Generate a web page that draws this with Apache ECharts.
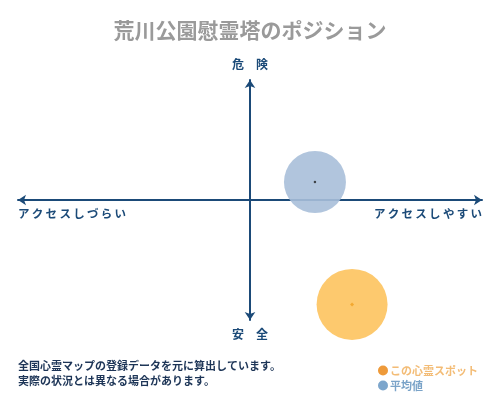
<!DOCTYPE html>
<html><head><meta charset="utf-8">
<script src="https://cdn.jsdelivr.net/npm/echarts@6/dist/echarts.min.js"></script>
<style>html,body{margin:0;padding:0;background:#fff}#c{width:500px;height:400px}</style>
</head><body><div id="c"></div>
<script>
const titleText = '荒川公園慰霊塔のポジション';
const axisTop = '危\u3000険';
const axisBottom = '安\u3000全';
const axisLeft = 'アクセスしづらい';
const axisRight = 'アクセスしやすい';
const seriesNames = ['この心霊スポット', '平均値'];
// [x, y, size]
const spotPoint = [4.4, -8.7, 71];
const avgPoint = [2.8, 1.5, 62];
const noteLines = ['全国心霊マップの登録データを元に算出しています。', '実際の状況とは異なる場合があります。'];

const F = '"Noto Sans CJK JP", sans-serif';
const navy = '#1b4a78';
const sp = s => s.split('').join('\u2009');

const chart = echarts.init(document.getElementById('c'));
chart.setOption({
  backgroundColor: '#fff',
  animation: false,
  title: { text: titleText, left: 'center', top: 15,
    textStyle: { fontFamily: F, fontSize: 21, fontWeight: 'bold', color: '#9a9a9a' } },
  grid: { left: 18, right: 18, top: 80, bottom: 80 },
  xAxis: { type: 'value', min: -10, max: 10, splitLine: { show: false },
    axisTick: { show: false }, axisLabel: { show: false },
    axisLine: { onZero: true, lineStyle: { color: navy, width: 2 }, symbol: ['arrow', 'arrow'], symbolSize: [8, 8] } },
  yAxis: { type: 'value', min: -10, max: 10, splitLine: { show: false },
    axisTick: { show: false }, axisLabel: { show: false },
    axisLine: { onZero: true, lineStyle: { color: navy, width: 2 }, symbol: ['arrow', 'arrow'], symbolSize: [8, 8] } },
  legend: {
    orient: 'vertical', left: 373, top: 360, itemGap: 4, itemWidth: 10, itemHeight: 10,
    icon: 'circle',
    data: [
      { name: seriesNames[0], itemStyle: { color: '#ee9a3a' }, textStyle: { color: '#f3bc76' } },
      { name: seriesNames[1], itemStyle: { color: '#6f9cc6' }, textStyle: { color: '#7aa3c8' } }
    ],
    textStyle: { fontFamily: F, fontSize: 11, fontWeight: 'bold', padding: [0, 0, 0, -3] }
  },
  graphic: [
    { type: 'text', left: 'center', top: 58, style: { text: axisTop, font: 'bold 12px ' + F, fill: navy } },
    { type: 'text', left: 'center', top: 328, style: { text: axisBottom, font: 'bold 12px ' + F, fill: navy } },
    { type: 'text', left: 18, top: 208, style: { text: sp(axisLeft), font: 'bold 11.5px ' + F, fill: navy } },
    { type: 'text', right: 18, top: 208, style: { text: sp(axisRight), font: 'bold 11.5px ' + F, fill: navy } },
    { type: 'text', left: 18, top: 360, style: { text: noteLines[0], font: 'bold 11px ' + F, fill: '#1d3557' } },
    { type: 'text', left: 18, top: 375, style: { text: noteLines[1], font: 'bold 11px ' + F, fill: '#1d3557' } }
  ],
  series: [
    { name: seriesNames[0], type: 'scatter', data: [spotPoint], symbolSize: d => d[2],
      itemStyle: { color: '#fdc96e', opacity: 1 }, z: 2 },
    { name: seriesNames[1], type: 'scatter', data: [avgPoint], symbolSize: d => d[2],
      itemStyle: { color: '#a9bfd9', opacity: 0.9 }, z: 2 },
    { type: 'scatter', data: [spotPoint], symbol: 'diamond', symbolSize: 4,
      itemStyle: { color: '#f0a020' }, z: 3, silent: true },
    { type: 'scatter', data: [avgPoint], symbolSize: 2.5,
      itemStyle: { color: '#222' }, z: 3, silent: true }
  ]
});
</script></body></html>
